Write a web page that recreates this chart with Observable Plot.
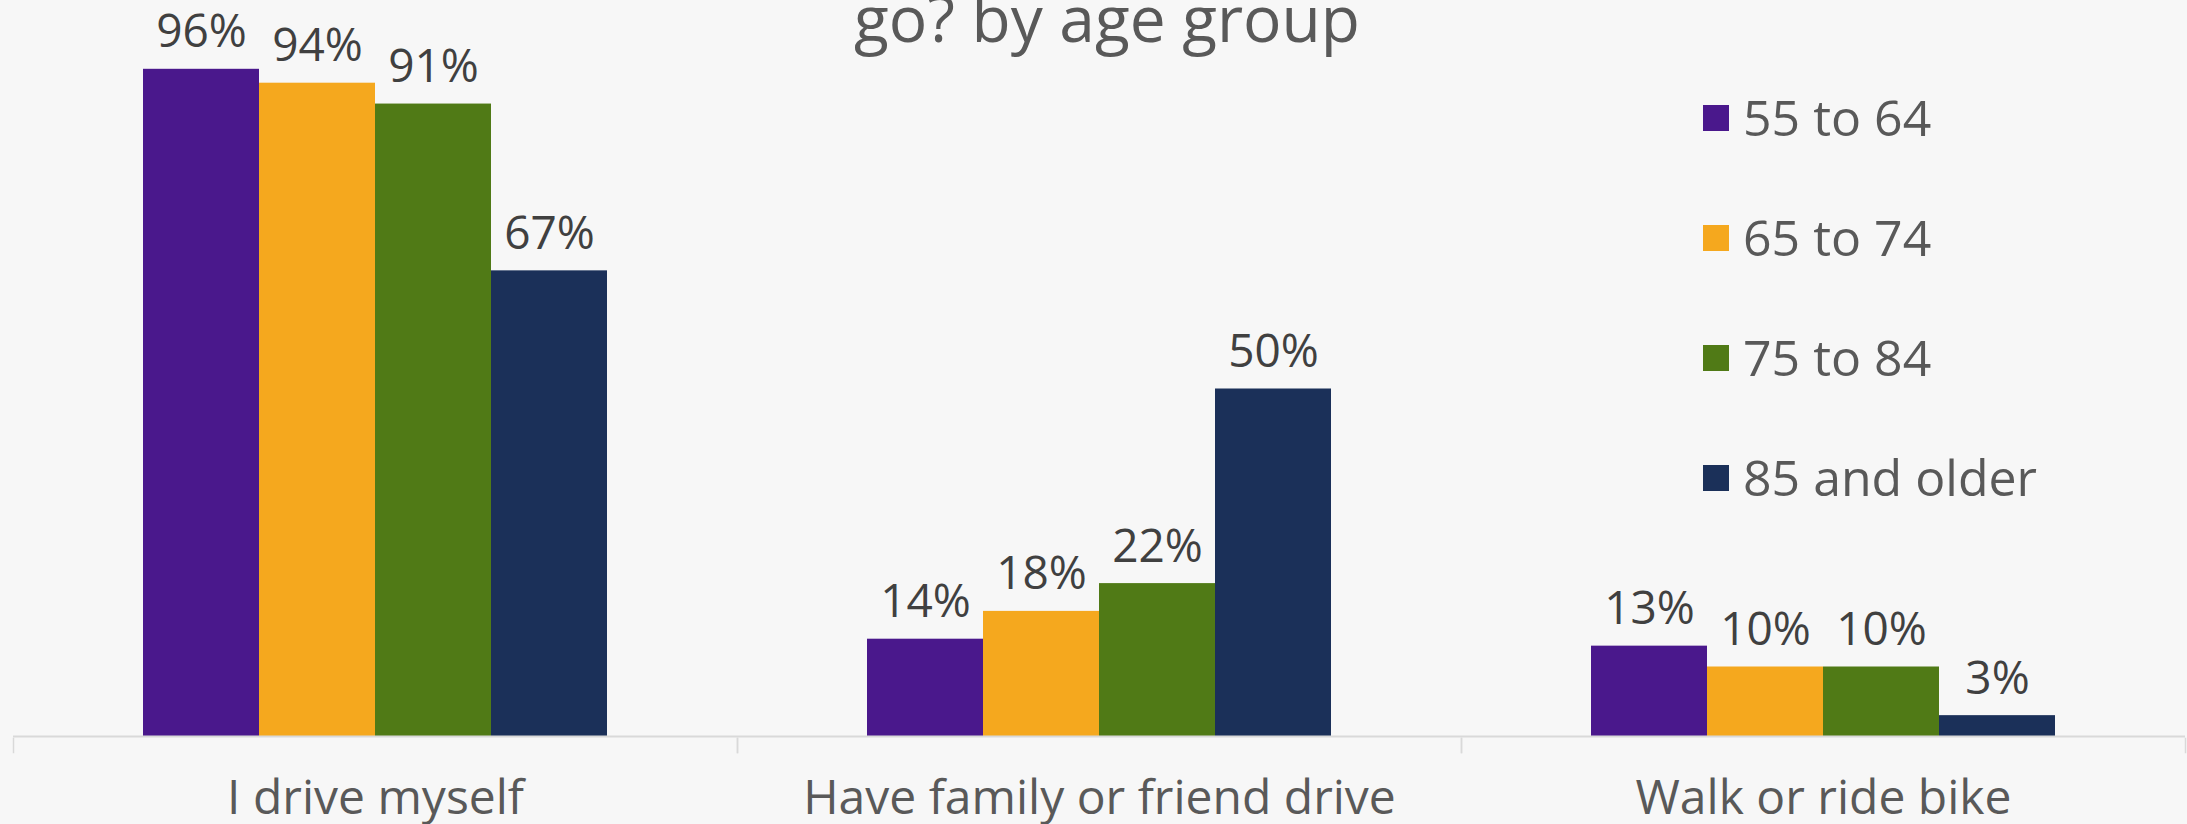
<!DOCTYPE html>
<html>
<head>
<meta charset="utf-8">
<script src="https://cdn.jsdelivr.net/npm/d3@7"></script>
<script src="https://cdn.jsdelivr.net/npm/@observablehq/plot@0.6"></script>
<style>
  html, body { margin: 0; padding: 0; background: #f7f7f7; overflow: hidden; }
  #chart { position: relative; width: 2187px; height: 824px; }
</style>
</head>
<body>
<div id="chart"></div>
<script>
const titleText = "go? by age group";
const categories = ["I drive myself", "Have family or friend drive", "Walk or ride bike"];
const ageGroups = ["55 to 64", "65 to 74", "75 to 84", "85 and older"];
const colors = ["#4a188c", "#f5a81e", "#507a16", "#1b3059"];
const v55 = [96, 14, 13];
const v65 = [94, 18, 10];
const v75 = [91, 22, 10];
const v85 = [67, 50, 3];

const series = [v55, v65, v75, v85];
const data = [];
categories.forEach((c, ci) => {
  ageGroups.forEach((g, gi) => data.push({category: c, group: g, value: series[gi][ci]}));
});

const FONT = "'Open Sans', sans-serif";
const W = 2187, H = 824;

const plot = Plot.plot({
  width: W,
  height: H,
  marginLeft: 12,
  marginRight: 2,
  marginTop: 41,
  marginBottom: 88,
  style: {background: "#f7f7f7", fontFamily: FONT},
  fx: {domain: categories, padding: 0, label: null},
  x: {domain: ageGroups, paddingInner: 0, paddingOuter: 1.095, axis: null},
  y: {domain: [0, 100], axis: null},
  color: {domain: ageGroups, range: colors},
  marks: [
    Plot.barY(data, {fx: "category", x: "group", y: "value", fill: "group"}),
    Plot.ruleY([0], {stroke: "#d9d9d9", strokeWidth: 2}),
    Plot.frame({anchor: "left", stroke: "#d9d9d9", strokeWidth: 1.5, insetTop: 697, insetBottom: -16}),
    Plot.frame({anchor: "right", stroke: "#d9d9d9", strokeWidth: 1.5, insetTop: 697, insetBottom: -16}),
    Plot.text(data, {fx: "category", x: "group", y: "value", text: d => d.value + "%",
      lineAnchor: "bottom", dy: -22, fontSize: 46, fill: "#404040", fontFamily: FONT}),
    Plot.axisFx({anchor: "bottom", tickSize: 0, tickPadding: 43, fontSize: 48,
      color: "#595959", label: null, fontFamily: FONT})
  ]
});

document.getElementById("chart").appendChild(plot);

const svg = d3.select(plot);
// Title (partly cut off at top, as in reference)
svg.append("text")
  .attr("x", 1107).attr("y", 42)
  .attr("text-anchor", "middle")
  .attr("font-family", FONT).attr("font-size", 64).attr("fill", "#595959")
  .text(titleText);

// Legend
const leg = svg.append("g").attr("transform", "translate(1703,118)");
ageGroups.forEach((g, i) => {
  const row = leg.append("g").attr("transform", `translate(0,${i * 120})`);
  row.append("rect").attr("x", 0).attr("y", -13).attr("width", 26).attr("height", 26).attr("fill", colors[i]);
  row.append("text").attr("x", 40).attr("y", 0).attr("dy", "0.36em")
    .attr("text-anchor", "start")
    .attr("font-family", FONT).attr("font-size", 50).attr("fill", "#595959").text(g);
});
</script>
</body>
</html>
